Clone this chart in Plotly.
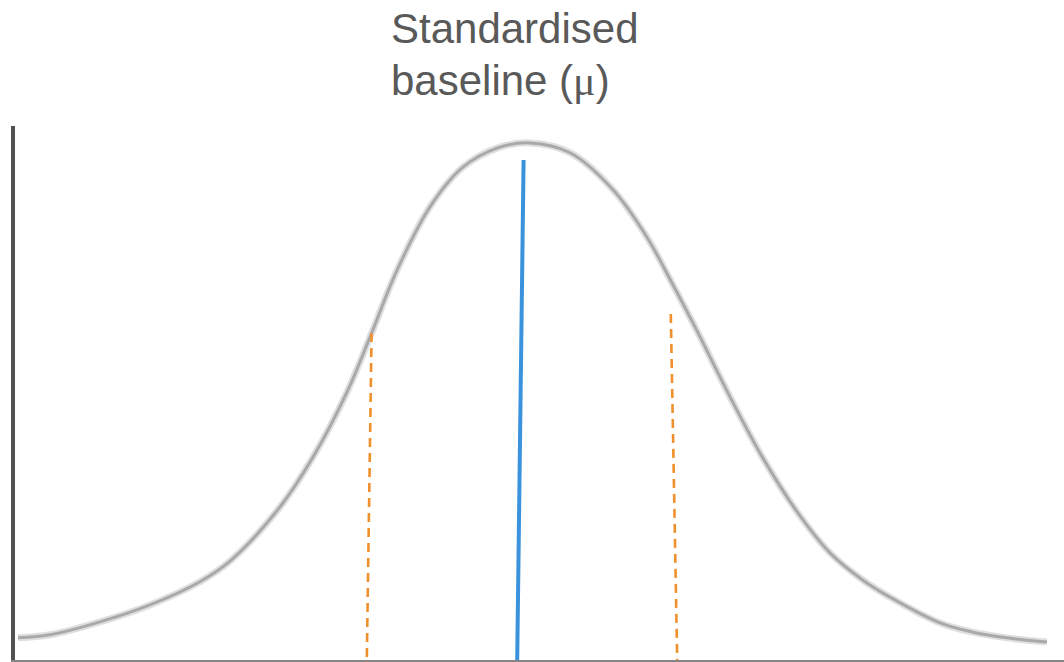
import plotly.graph_objects as go

# Bell curve (x in standard deviations from the mean, y relative height)
curve_x = [-3.200, -3.000, -2.688, -2.375, -2.063, -1.875, -1.563, -1.356, -1.144, -1.000,
           -0.831, -0.625, -0.419, -0.206, 0.000, 0.250, 0.519, 0.731, 0.894, 1.044,
           1.250, 1.456, 1.669, 1.875, 2.081, 2.250, 2.563, 2.769, 2.981, 3.231]
curve_y = [0.043, 0.049, 0.074, 0.107, 0.152, 0.192, 0.297, 0.394, 0.520, 0.627,
           0.757, 0.880, 0.957, 0.994, 1.004, 0.985, 0.913, 0.821, 0.728, 0.639,
           0.511, 0.392, 0.288, 0.208, 0.155, 0.122, 0.072, 0.054, 0.043, 0.035]

# Baseline (mean) marker: top and bottom end points
mean_x = [-0.04, -0.08]
mean_y = [0.971, 0.0]

# Dashed markers either side of the mean
left_x = [-0.99, -1.02]
left_y = [0.635, 0.0]
right_x = [0.88, 0.92]
right_y = [0.672, 0.0]

title_line1 = "Standardised"
title_line2 = "baseline (<span style=\"font-family:serif\">μ</span>)"

W, H = 1064, 662

fig = go.Figure()

# soft halo for the blurred look of the curve
fig.add_trace(go.Scatter(x=curve_x, y=curve_y, mode="lines",
                         line=dict(color="rgba(185,185,185,0.45)", width=7, shape="spline"),
                         hoverinfo="skip", showlegend=False))
fig.add_trace(go.Scatter(x=curve_x, y=curve_y, mode="lines",
                         line=dict(color="#a9a9a9", width=3, shape="spline"),
                         showlegend=False))
fig.add_trace(go.Scatter(x=left_x, y=left_y, mode="lines",
                         line=dict(color="#f0902c", width=2.6, dash="9px,6px"),
                         showlegend=False))
fig.add_trace(go.Scatter(x=right_x, y=right_y, mode="lines",
                         line=dict(color="#f0902c", width=2.6, dash="9px,6px"),
                         showlegend=False))
fig.add_trace(go.Scatter(x=mean_x, y=mean_y, mode="lines",
                         line=dict(color="#3a93dc", width=4),
                         showlegend=False))

font = dict(family="Liberation Sans, Arial, sans-serif", size=42, color="#595959")
fig.add_annotation(text=title_line1, xref="paper", yref="paper",
                   x=0.3565, y=1.2303, xanchor="left", yanchor="top", align="left",
                   showarrow=False, font=font)
fig.add_annotation(text=title_line2, xref="paper", yref="paper",
                   x=0.3565, y=1.133, xanchor="left", yanchor="top", align="left",
                   showarrow=False, font=font)

fig.update_layout(
    width=W, height=H,
    margin=dict(l=15, r=0, t=126, b=2),
    plot_bgcolor="white", paper_bgcolor="white",
    xaxis=dict(range=[-3.21875, 3.3375], showgrid=False, zeroline=False, showticklabels=False,
               ticks="", showline=True, linecolor="#858585", linewidth=3, fixedrange=True),
    yaxis=dict(range=[0, 1.0369], showgrid=False, zeroline=False, showticklabels=False,
               ticks="", showline=True, linecolor="#505050", linewidth=4, fixedrange=True),
)

# remove the default page margin so the figure fills the window exactly
fig.write_html("out.html",
               config={"displayModeBar": False, "staticPlot": True},
               post_script="document.body.style.margin='0';document.body.style.overflow='hidden';")
